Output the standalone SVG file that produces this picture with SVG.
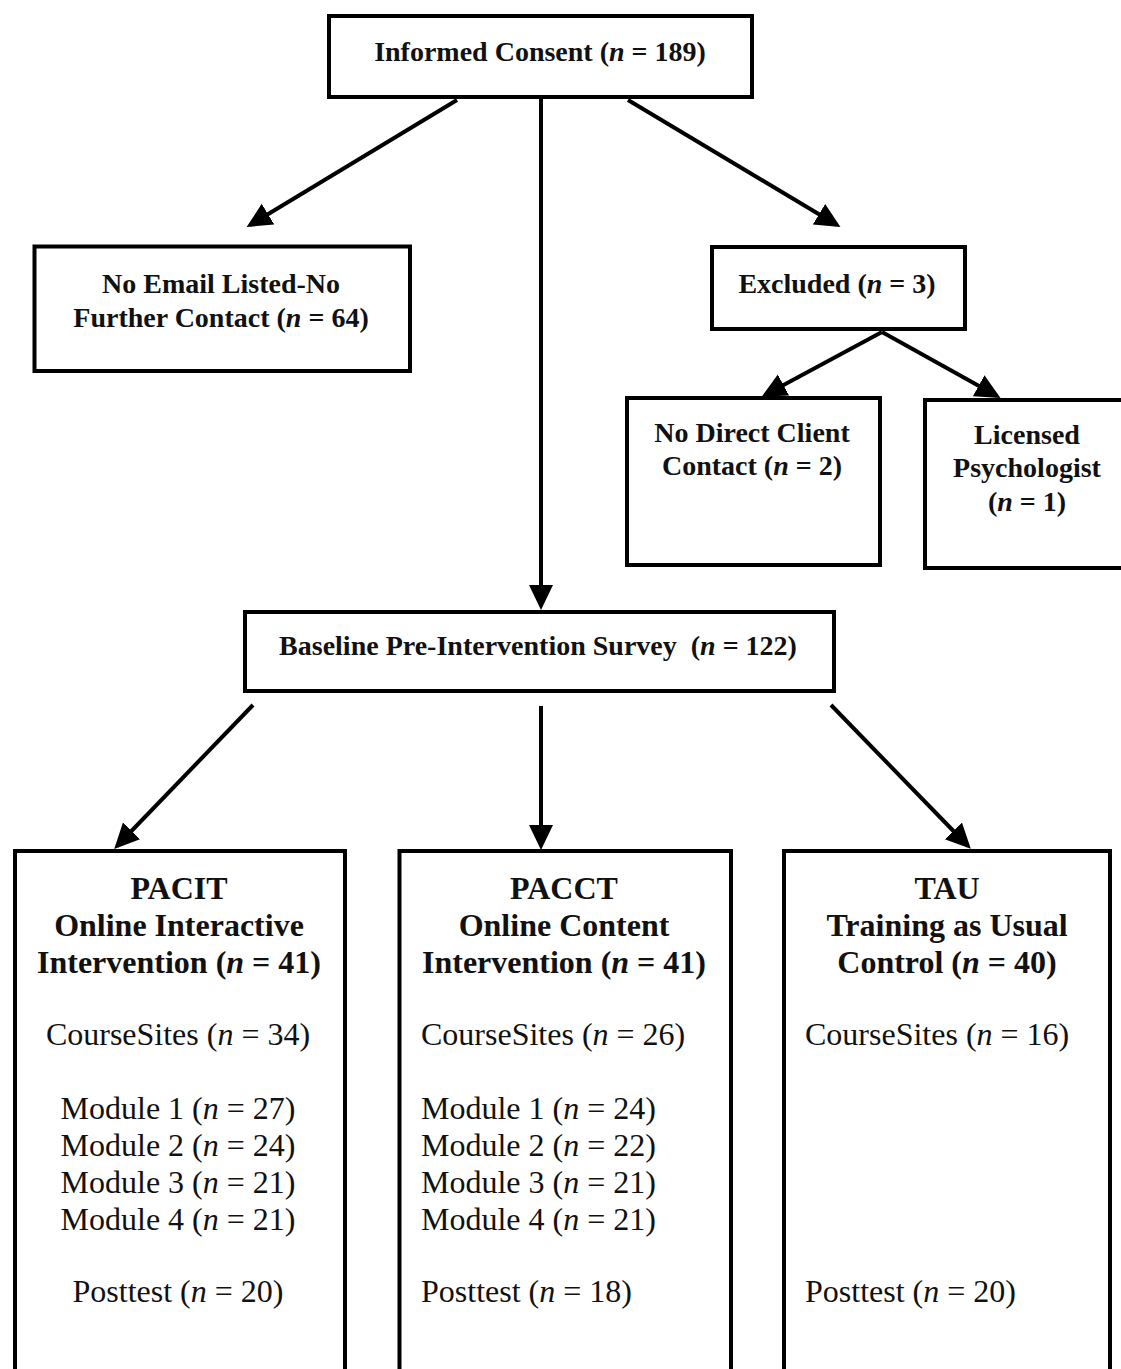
<svg xmlns="http://www.w3.org/2000/svg" width="1121" height="1369" viewBox="0 0 1121 1369">
<style>
.box{fill:#fff;stroke:#000;stroke-width:4}
.hb{font-family:"Liberation Serif","Times New Roman",serif;font-weight:bold;font-size:28px;fill:#111;text-anchor:middle}
.tb{font-family:"Liberation Serif","Times New Roman",serif;font-weight:bold;font-size:32px;fill:#111;text-anchor:middle}
.tr{font-family:"Liberation Serif","Times New Roman",serif;font-size:32px;fill:#111}
.c{text-anchor:middle}
.i{font-style:italic}
.ln{fill:none;stroke:#000;stroke-width:4}
</style>
<defs>
<marker id="ah" markerUnits="userSpaceOnUse" markerWidth="28" markerHeight="26" refX="21" refY="12" orient="auto">
<path d="M0,0 L25,12 L0,24 Z" fill="#000"/>
</marker>
</defs>
<g id="connectors">
<line class="ln" x1="457" y1="100" x2="250" y2="225" marker-end="url(#ah)"/>
<line class="ln" x1="628" y1="100" x2="837" y2="225" marker-end="url(#ah)"/>
<line class="ln" x1="541" y1="99" x2="541" y2="606" marker-end="url(#ah)"/>
<line class="ln" x1="882" y1="332" x2="765" y2="395" marker-end="url(#ah)"/>
<line class="ln" x1="882" y1="332" x2="997" y2="396" marker-end="url(#ah)"/>
<line class="ln" x1="253" y1="705" x2="117" y2="846" marker-end="url(#ah)"/>
<line class="ln" x1="541" y1="706" x2="541" y2="846" marker-end="url(#ah)"/>
<line class="ln" x1="831" y1="705" x2="968" y2="846" marker-end="url(#ah)"/>
</g>
<g id="consent">
<rect class="box" x="329" y="16" width="423" height="81"/>
<text class="hb" x="540" y="61">Informed Consent (<tspan class="i">n</tspan> = 189)</text>
</g>
<g id="noemail">
<rect class="box" x="34.5" y="246.5" width="375.5" height="124.5"/>
<text class="hb" x="221" y="293">No Email Listed-No</text>
<text class="hb" x="221" y="327">Further Contact (<tspan class="i">n</tspan> = 64)</text>
</g>
<g id="excluded">
<rect class="box" x="712" y="247" width="253" height="82"/>
<text class="hb" x="837" y="293">Excluded (<tspan class="i">n</tspan> = 3)</text>
</g>
<g id="nodirect">
<rect class="box" x="627" y="398" width="253" height="167"/>
<text class="hb" x="752" y="442">No Direct Client</text>
<text class="hb" x="752" y="475">Contact (<tspan class="i">n</tspan> = 2)</text>
</g>
<g id="licensed">
<rect class="box" x="925" y="400" width="204" height="168"/>
<text class="hb" x="1027" y="444">Licensed</text>
<text class="hb" x="1027" y="477">Psychologist</text>
<text class="hb" x="1027" y="511">(<tspan class="i">n</tspan> = 1)</text>
</g>
<g id="baseline">
<rect class="box" x="245" y="612" width="589" height="79"/>
<text class="hb" x="538" y="655" xml:space="preserve">Baseline Pre-Intervention Survey  (<tspan class="i">n</tspan> = 122)</text>
</g>
<g id="pacit">
<rect class="box" x="15" y="851" width="330" height="540"/>
<text class="tb" x="179" y="899">PACIT</text>
<text class="tb" x="179" y="936">Online Interactive</text>
<text class="tb" x="179" y="973">Intervention (<tspan class="i">n</tspan> = 41)</text>
<text class="tr c" x="178" y="1045">CourseSites (<tspan class="i">n</tspan> = 34)</text>
<text class="tr c" x="178" y="1119">Module 1 (<tspan class="i">n</tspan> = 27)</text>
<text class="tr c" x="178" y="1156">Module 2 (<tspan class="i">n</tspan> = 24)</text>
<text class="tr c" x="178" y="1193">Module 3 (<tspan class="i">n</tspan> = 21)</text>
<text class="tr c" x="178" y="1230">Module 4 (<tspan class="i">n</tspan> = 21)</text>
<text class="tr c" x="178" y="1302">Posttest (<tspan class="i">n</tspan> = 20)</text>
</g>
<g id="pacct">
<rect class="box" x="399.5" y="851" width="331.5" height="540"/>
<text class="tb" x="564" y="899">PACCT</text>
<text class="tb" x="564" y="936">Online Content</text>
<text class="tb" x="564" y="973">Intervention (<tspan class="i">n</tspan> = 41)</text>
<text class="tr" x="421" y="1045">CourseSites (<tspan class="i">n</tspan> = 26)</text>
<text class="tr" x="421" y="1119">Module 1 (<tspan class="i">n</tspan> = 24)</text>
<text class="tr" x="421" y="1156">Module 2 (<tspan class="i">n</tspan> = 22)</text>
<text class="tr" x="421" y="1193">Module 3 (<tspan class="i">n</tspan> = 21)</text>
<text class="tr" x="421" y="1230">Module 4 (<tspan class="i">n</tspan> = 21)</text>
<text class="tr" x="421" y="1302">Posttest (<tspan class="i">n</tspan> = 18)</text>
</g>
<g id="tau">
<rect class="box" x="784" y="851" width="326" height="540"/>
<text class="tb" x="947" y="899">TAU</text>
<text class="tb" x="947" y="936">Training as Usual</text>
<text class="tb" x="947" y="973">Control (<tspan class="i">n</tspan> = 40)</text>
<text class="tr" x="805" y="1045">CourseSites (<tspan class="i">n</tspan> = 16)</text>
<text class="tr" x="805" y="1302">Posttest (<tspan class="i">n</tspan> = 20)</text>
</g>
</svg>
